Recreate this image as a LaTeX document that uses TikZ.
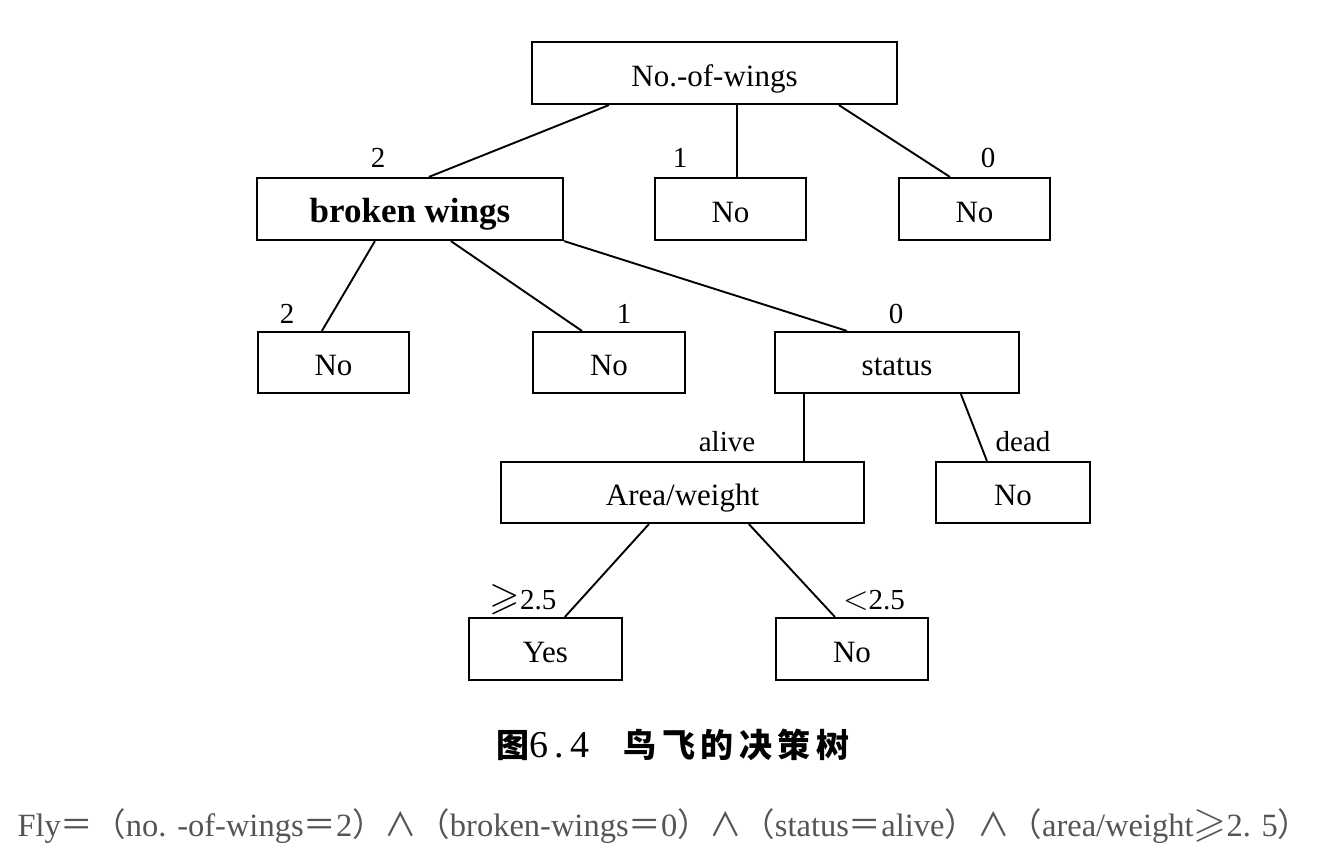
\documentclass[tikz,border=0pt]{standalone}
\usepackage{amssymb}
\usepackage{graphicx}
\usepackage{fontspec}
\usetikzlibrary{calc}
\setmainfont{Liberation Serif}
\newfontfamily\cjk{Noto Sans CJK SC}
\definecolor{formgray}{HTML}{555555}
\begin{document}
\begin{tikzpicture}[x=1pt,y=-1pt,
  box/.style={draw,line width=2.2pt,inner sep=0pt,text height=30pt,text depth=4pt,font=\fontsize{31}{36}\selectfont},
  edge/.style={line width=1.9pt},
  lab/.style={font=\fontsize{29}{34}\selectfont,inner sep=0pt}]
\useasboundingbox (0,0) rectangle (1343,847);
% boxes
\node[box,minimum width=365pt,minimum height=62pt] (root) at (714.5,73) {No.-of-wings};
\node[box,minimum width=306pt,minimum height=62pt,font=\fontsize{35}{40}\selectfont\bfseries] (bw) at (410,209) {broken wings};
\node[box,minimum width=151pt,minimum height=62pt] (n1) at (730.5,209) {No};
\node[box,minimum width=151pt,minimum height=62pt] (n0) at (974.5,209) {No};
\node[box,minimum width=151pt,minimum height=61pt] (b2) at (333.5,362.5) {No};
\node[box,minimum width=152pt,minimum height=61pt] (b1) at (609,362.5) {No};
\node[box,minimum width=244pt,minimum height=61pt] (st) at (897,362.5) {status};
\node[box,minimum width=363pt,minimum height=61pt] (aw) at (682.5,492.5) {Area/weight};
\node[box,minimum width=154pt,minimum height=61pt] (dead) at (1013,492.5) {No};
\node[box,minimum width=153pt,minimum height=62pt] (yes) at (545.5,649) {Yes};
\node[box,minimum width=152pt,minimum height=62pt] (lt) at (852,649) {No};
% edges
\draw[edge] ($(root.south west)+(78,0)$) -- ($(bw.north west)+(173,0)$);
\draw[edge] ($(root.south west)+(206,0)$) -- ($(n1.north west)+(83,0)$);
\draw[edge] ($(root.south west)+(308,0)$) -- ($(n0.north west)+(52,0)$);
\draw[edge] ($(bw.south west)+(119,0)$) -- ($(b2.north west)+(65,0)$);
\draw[edge] ($(bw.south west)+(195,0)$) -- ($(b1.north west)+(50,0)$);
\draw[edge] (bw.south east) -- ($(st.north west)+(73,0)$);
\draw[edge] ($(st.south west)+(30,0)$) -- ($(aw.north west)+(304,0)$);
\draw[edge] ($(st.south west)+(187,0)$) -- ($(dead.north west)+(52,0)$);
\draw[edge] ($(aw.south west)+(149,0)$) -- ($(yes.north west)+(97,0)$);
\draw[edge] ($(aw.south west)+(249,0)$) -- ($(lt.north west)+(60,0)$);
% edge labels
\node[lab] (l1) at (378,158) {2};
\node[lab] (l2) at (680,158) {1};
\node[lab] (l3) at (988,158) {0};
\node[lab] (l4) at (287,314) {2};
\node[lab] (l5) at (624,314) {1};
\node[lab] (l6) at (896,314) {0};
\node[lab] (l7) at (727,442) {alive};
\node[lab] (l8) at (1023,442) {dead};
\node[lab] (l9) at (523,600) {\scalebox{1.35}{$\geqslant$}2.5};
\node[lab] (l10) at (874,600) {\scalebox{1.35}{$<$}2.5};
% caption
\node[inner sep=0pt,font=\fontsize{33}{38}\selectfont] (cap) at (673,745)
  {{\cjk\bfseries 图}{\fontsize{38}{42}\selectfont 6\,.\,4}\hspace{34pt}{\cjk\bfseries 鸟\,飞\,的\,决\,策\,树}};
% formula
\node[inner sep=0pt,text=formgray,font=\fontsize{32.5}{37}\selectfont] (form) at (664,826)
  {Fly{\cjk ＝（}no. -of-wings{\cjk ＝}2{\cjk ）∧（}broken-wings{\cjk ＝}0{\cjk ）∧（}status{\cjk ＝}alive{\cjk ）∧（}area/weight\scalebox{1.3}{$\geqslant$}2. 5{\cjk ）}};
\end{tikzpicture}
\end{document}
